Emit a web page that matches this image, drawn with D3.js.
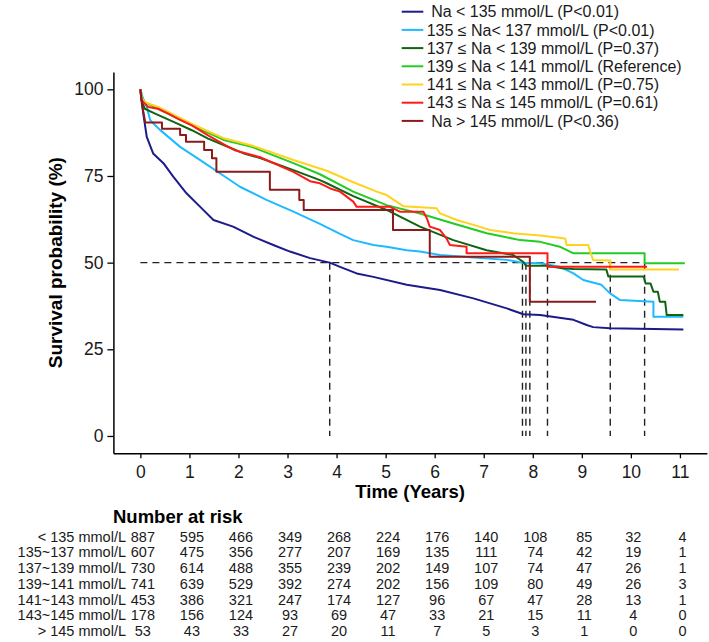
<!DOCTYPE html>
<html>
<head>
<meta charset="utf-8">
<script src="https://cdn.jsdelivr.net/npm/d3@7"></script>
<style>
  body { margin: 0; background: #fff; }
  text { font-family: "Liberation Sans", Arial, sans-serif; }
</style>
</head>
<body>
<div id="chart"></div>
<script>
const width = 709;
const height = 642;

const groups = ["lt135", "n135", "n137", "n139", "n141", "n143", "gt145"];
const colors = ["#1b1b8a", "#1ebaff", "#0f6410", "#22cc22", "#ffd21e", "#ff1a1a", "#8b1a1a"];
const legendLabels = [
  "\u00a0Na < 135 mmol/L (P<0.01)",
  "135 \u2264 Na< 137 mmol/L (P<0.01)",
  "137 \u2264 Na < 139 mmol/L (P=0.37)",
  "139 \u2264 Na < 141 mmol/L (Reference)",
  "141 \u2264 Na < 143 mmol/L (P=0.75)",
  "143 \u2264 Na \u2264 145 mmol/L (P=0.61)",
  "\u00a0Na > 145 mmol/L (P<0.36)"
];
const riskLabels = ["< 135 mmol/L", "135~137 mmol/L", "137~139 mmol/L", "139~141 mmol/L",
  "141~143 mmol/L", "143~145 mmol/L", "> 145 mmol/L"];

// [time (years), survival (%)]
const lt135 = [[0,100],[0.03,96],[0.07,92],[0.13,86.3],[0.26,81.5],[0.47,78.7],[0.67,74.8],[0.94,70],
  [1.22,66.1],[1.49,62.3],[1.89,60.4],[2.3,57.5],[2.71,55.1],[3.05,53.2],[3.46,51.3],[3.86,50],[4.07,48.8],
  [4.41,46.9],[4.75,45.9],[5.43,43.6],[6.11,42.1],[6.79,39.7],[7.47,36.8],[7.81,35.1],[8.15,34.9],
  [8.83,33.5],[9.1,32],[9.23,31.4],[9.57,31.1],[11.07,30.7]];
const n135 = [[0,100],[0.05,97.5],[0.13,95],[0.2,91.1],[0.4,88.3],[0.81,83.4],[1.22,79.6],[1.62,75.8],
  [2.03,71.9],[2.57,68.1],[3.12,64.7],[3.66,61.2],[4.07,58.3],[4.34,56.5],[4.75,55.1],[5.02,54.6],
  [5.43,53.6],[5.7,53.2],[6.11,52.2],[6.79,51.5],[7.47,50.8],[7.79,50],[8.15,49.8],[8.55,48.8],
  [8.83,46.9],[9.03,45],[9.4,43.6],[9.57,41.2],[9.78,39.2],[10.46,38.7],[10.46,34.4],[11.07,34.4]];
const n137 = [[0,100],[0.03,96.5],[0.09,94.4],[0.3,93],[0.71,90.4],[1.05,88.2],[1.38,85.8],[1.72,83.8],
  [2.13,81.4],[2.44,80.2],[3.12,76.7],[3.66,73.8],[3.8,72.9],[4.34,69.2],[5.02,65.2],[5.7,60.4],
  [6.38,56.5],[7.06,53.6],[7.6,52.2],[7.81,50.2],[7.86,49.1],[8.28,49.1],[8.6,48.4],[8.83,48.2],
  [9.5,48],[9.54,46],[10.26,46],[10.3,44],[10.4,44],[10.46,41.6],[10.55,41.6],[10.59,38.7],[10.7,38.7],
  [10.73,34.9],[11.07,34.9]];
const n139 = [[0,100],[0.03,97.5],[0.09,96.3],[0.36,94.4],[1.05,89.6],[1.72,85.3],[2.27,83.4],[3.12,78.7],
  [3.66,75.5],[4.34,70.5],[5.02,66.6],[5.7,64.2],[6.38,61.3],[7.06,58.5],[7.74,56.5],[8.15,56],
  [8.55,54.6],[8.83,52.7],[10.28,52.7],[10.28,49.8],[11.1,49.8]];
const n141 = [[0,100],[0.03,97.5],[0.09,96.3],[0.36,94.9],[1.05,90],[1.72,85.8],[2.27,83.8],[3.12,79.6],
  [3.8,76.5],[4.34,73.2],[4.82,70.5],[5.02,69.5],[5.36,66.3],[6.04,65.7],[6.11,64.2],[6.45,62.3],
  [6.79,60.9],[7.13,59.4],[7.6,58.5],[8.15,57.8],[8.66,57],[8.69,55.1],[9.13,55.1],[9.17,53.2],
  [9.23,50.8],[9.58,50.6],[9.58,48],[10.98,48]];
const n143 = [[0,100],[0.02,97],[0.06,96.3],[0.16,94.9],[0.36,94.4],[0.57,93],[0.77,91.5],[1.05,89.6],
  [1.38,86.7],[1.72,84],[1.93,82.4],[2.44,80.4],[3.12,76.2],[3.46,73.5],[3.66,72.9],[3.87,71.4],
  [4.07,70.5],[4.34,67.6],[4.41,66.1],[5.09,66.1],[5.29,64.7],[5.77,64.7],[5.84,62.8],[5.9,60.4],
  [6.11,59.4],[6.24,57],[6.31,55.1],[6.65,54.6],[6.65,52.7],[8.3,52.7],[8.3,48.8],[10.33,48.8]];
const gt145 = [[0,100],[0.05,94.3],[0.1,90.4],[0.44,90.4],[0.44,88.6],[0.81,88.6],[0.81,86.8],[0.93,86.8],
  [0.93,84.9],[1.3,84.9],[1.3,82.5],[1.46,82.5],[1.46,80.1],[1.55,80.1],[1.55,76.2],[2.64,76.2],
  [2.64,71],[3.24,71],[3.24,68.1],[3.33,68.1],[3.33,65.2],[5.15,65.2],[5.15,59.4],[5.9,59.4],
  [5.9,51.7],[7.94,51.7],[7.94,38.7],[9.29,38.7]];
const curves = [lt135, n135, n137, n139, n141, n143, gt145];

const medians = [3.86, 7.79, 7.86, 10.28, 9.58, 8.3, 7.94];

const riskTimes = d3.range(0, 12);
const risk = [
  [887, 595, 466, 349, 268, 224, 176, 140, 108, 85, 32, 4],
  [607, 475, 356, 277, 207, 169, 135, 111, 74, 42, 19, 1],
  [730, 614, 488, 355, 239, 202, 149, 107, 74, 47, 26, 1],
  [741, 639, 529, 392, 274, 202, 156, 109, 80, 49, 26, 3],
  [453, 386, 321, 247, 174, 127, 96, 67, 47, 28, 13, 1],
  [178, 156, 124, 93, 69, 47, 33, 21, 15, 11, 4, 0],
  [53, 43, 33, 27, 20, 11, 7, 5, 3, 1, 0, 0]
];

const xTicks = d3.range(0, 12);
const yTicks = [0, 25, 50, 75, 100];

const x = d3.scaleLinear().domain([-0.55, 11.55]).range([113.4, 706.9]);
const y = d3.scaleLinear().domain([-5, 105]).range([453.3, 72]);

const svg = d3.select("#chart")
  .append("svg")
  .attr("width", width)
  .attr("height", height);

svg.append("rect").attr("width", width).attr("height", height).attr("fill", "#fff");

// median lines
const dash = svg.append("g")
  .attr("stroke", "#222")
  .attr("stroke-width", 1.4)
  .attr("stroke-dasharray", "7,5")
  .attr("fill", "none");

dash.append("line")
  .attr("x1", x(0)).attr("x2", x(d3.max(medians)))
  .attr("y1", y(50)).attr("y2", y(50));

dash.selectAll("line.v")
  .data(medians)
  .join("line")
  .attr("class", "v")
  .attr("x1", d => x(d)).attr("x2", d => x(d))
  .attr("y1", y(50)).attr("y2", y(0));

const line = d3.line()
  .x(d => x(d[0]))
  .y(d => y(d[1]));

svg.append("g")
  .attr("fill", "none")
  .attr("stroke-width", 2)
  .attr("stroke-linejoin", "round")
  .selectAll("path")
  .data(curves)
  .join("path")
  .attr("stroke", (d, i) => colors[i])
  .attr("d", line);

// axes
const xAxis = svg.append("g")
  .attr("transform", `translate(0,${y.range()[0]})`)
  .call(d3.axisBottom(x).tickValues(xTicks).tickSize(5).tickSizeOuter(0).tickPadding(7));

const yAxis = svg.append("g")
  .attr("transform", `translate(${x.range()[0]},0)`)
  .call(d3.axisLeft(y).tickValues(yTicks).tickSize(6).tickSizeOuter(0).tickPadding(4));

[xAxis, yAxis].forEach(a => {
  a.select(".domain").attr("stroke", "#000").attr("stroke-width", 1.5);
  a.selectAll(".tick line").attr("stroke", "#000").attr("stroke-width", 1.3);
  a.selectAll(".tick text")
    .attr("font-size", 17.5)
    .attr("font-family", "Liberation Sans, Arial, sans-serif")
    .attr("fill", "#1a1a1a");
});

svg.append("text")
  .attr("transform", `translate(55,${y(50)}) rotate(-90)`)
  .attr("text-anchor", "middle")
  .attr("dy", "0.35em")
  .attr("font-weight", "bold")
  .attr("font-size", 19)
  .text("Survival probability (%)");

svg.append("text")
  .attr("x", x(5.5))
  .attr("y", 498)
  .attr("text-anchor", "middle")
  .attr("font-weight", "bold")
  .attr("font-size", 18.5)
  .text("Time (Years)");

// legend
const legend = svg.append("g")
  .selectAll("g")
  .data(legendLabels)
  .join("g")
  .attr("transform", (d, i) => `translate(0,${11.7 + i * 18.2})`);

legend.append("line")
  .attr("x1", 401.7).attr("x2", 423.3)
  .attr("stroke", (d, i) => colors[i])
  .attr("stroke-width", 2);

legend.append("text")
  .attr("x", 426.7)
  .attr("dy", "0.35em")
  .attr("font-size", 16)
  .attr("fill", "#1a1a1a")
  .text(d => d);

// risk table
svg.append("text")
  .attr("x", 113)
  .attr("y", 523)
  .attr("font-weight", "bold")
  .attr("font-size", 18.5)
  .text("Number at risk");

const rows = svg.append("g")
  .attr("font-size", 14.5)
  .attr("fill", "#1a1a1a")
  .selectAll("g")
  .data(risk)
  .join("g")
  .attr("transform", (d, i) => `translate(0,${536.7 + i * 15.7})`);

rows.append("text")
  .attr("x", 126)
  .attr("dy", "0.35em")
  .attr("text-anchor", "end")
  .text((d, i) => riskLabels[i]);

rows.selectAll("text.n")
  .data(d => d)
  .join("text")
  .attr("class", "n")
  .attr("x", (d, i) => x(riskTimes[i]) + 2.5)
  .attr("dy", "0.35em")
  .attr("text-anchor", "middle")
  .text(d => d);
</script>
</body>
</html>
